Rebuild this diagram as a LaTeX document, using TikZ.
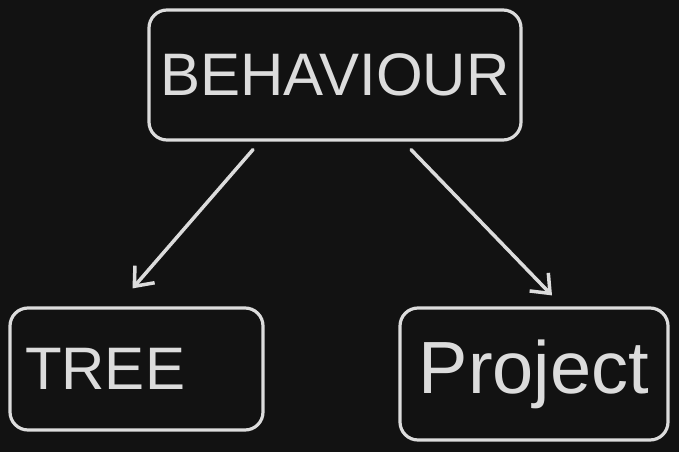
\documentclass[tikz,border=0pt]{standalone}
\usepackage{fontspec}
\setmainfont{Liberation Sans}
\usetikzlibrary{positioning,arrows.meta}
\definecolor{boardbg}{HTML}{121212}
\definecolor{chalk}{HTML}{DCDCDC}
\tikzset{
    card/.style={draw=chalk, line width=3.2pt, rounded corners=18pt, text=chalk, font=\fontsize{60}{60}\selectfont},
    link/.style={draw=chalk, line width=3.5pt, line cap=round, -{Straight Barb[length=16pt, width=26pt, line width=3.5pt]}}
}
\begin{document}
\begin{tikzpicture}
    \fill[boardbg] (0pt,0pt) rectangle (679pt,-452pt);
    \useasboundingbox (0pt,0pt) rectangle (679pt,-452pt);
    \node[card, minimum width=372pt, minimum height=130pt] (behaviour) at (335pt,-75pt) {BEHAVIOUR};
    \node[card, minimum width=253pt, minimum height=122pt, text width=223pt, inner xsep=15pt, align=left] (tree) at (136.5pt,-369pt) {TREE};
    \node[card, minimum width=268pt, minimum height=132pt, font=\fontsize{74}{74}\selectfont] (project) at (534pt,-374pt) {Project};
    \draw[link] ([xshift=-82pt, yshift=-8pt]behaviour.south) -- ([xshift=-4pt, yshift=18pt]tree.north);
    \draw[link] ([xshift=76pt, yshift=-8pt]behaviour.south) -- ([xshift=18pt, yshift=11pt]project.north);
\end{tikzpicture}
\end{document}
